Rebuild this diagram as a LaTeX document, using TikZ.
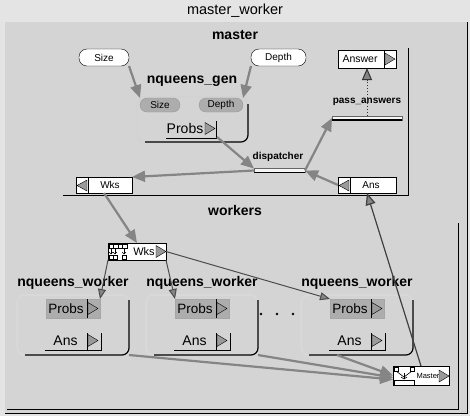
\documentclass[tikz,border=0pt]{standalone}
\usepackage{fontspec}
\setmainfont{Liberation Sans}
\usetikzlibrary{arrows.meta,calc}
\definecolor{bgout}{HTML}{E4E4E4}
\definecolor{bgin}{HTML}{D4D4D4}
\definecolor{hatch}{HTML}{858585}
\definecolor{portfill}{HTML}{ADADAD}
\definecolor{trigray}{HTML}{9A9A9A}
\begin{document}
\begin{tikzpicture}[x=1pt,y=-1pt,
  every node/.style={inner sep=0pt,outer sep=0pt},
  lbl/.style={font=\fontsize{14}{16}\selectfont\bfseries},
  smlbl/.style={font=\fontsize{10}{12}\selectfont\bfseries},
  oval/.style={draw,fill=white,rounded corners=8pt,minimum height=17pt},
  wbox/.style={draw,fill=white,minimum height=16pt},
  pill/.style={draw=gray!80,fill=portfill,rounded corners=7pt,minimum height=14pt,font=\fontsize{10}{11}\selectfont},
  hat/.style={draw=hatch,line width=2.2pt,-{Triangle[length=13pt,width=11pt,fill=hatch]}},
  hatthin/.style={draw=black!70,line width=1pt,-{Triangle[length=10pt,width=8pt,fill=hatch]}},
  rtri/.pic={\draw[fill=trigray] (0,-6) -- (10,0) -- (0,6) -- cycle;},
  ltri/.pic={\draw[fill=trigray] (0,-5.5) -- (-10,0) -- (0,5.5) -- cycle;}
]
\useasboundingbox (0,0) rectangle (470,416);
\fill[bgout] (0,0) rectangle (470,416);
\fill[bgin] (5,22) rectangle (467,413);
\draw[line width=0.8pt] (467,22) -- (467,413) -- (5,413);
\node[font=\fontsize{14.5}{16}\selectfont] (title) at (235,11) {master\_worker};

% ---------------- master region
\node[lbl] (mastert) at (235,35) {master};
\draw[line width=0.8pt] (408,48) -- (408,195) -- (63,195);

\node[oval,minimum width=50pt,font=\fontsize{10}{11}\selectfont] (size) at (104,57.5) {Size};
\node[oval,minimum width=55pt,font=\fontsize{10}{11}\selectfont] (depth) at (278.5,57.5) {Depth};
\node[wbox,minimum width=58pt,minimum height=18pt] (answer) at (367,59) {};
\node[font=\fontsize{10.5}{12}\selectfont] (answert) at (360,59) {Answer};
\draw (384,50) -- (384,68);
\pic at (385,59) {rtri};

% nqueens_gen
\node[lbl] (gent) at (192,81) {nqueens\_gen};
\draw[draw=gray!35,line width=1.5pt,rounded corners=8pt] (137,97) rectangle (248,142);
\node[minimum width=111pt,minimum height=45pt] (gen) at (192.5,119.5) {};
\draw[line width=1.2pt,rounded corners=7pt] (248,104) -- (248,142) -- (145,142);
\node[pill,minimum width=40pt] (gsize) at (160,105) {Size};
\node[pill,minimum width=44pt] (gdepth) at (221,105) {Depth};
\node[font=\fontsize{14}{16}\selectfont] (gprobs) at (185,128) {Probs};
\pic at (205,128.5) {rtri};
\draw (216,121) -- (216,138);
\draw (166,138.5) -- (217,138.5);
\coordinate (gprobsout) at (217,137);

% dispatcher / pass_answers
\node[smlbl] (disp) at (278,157) {dispatcher};
\node[draw=black!60,fill=white!92!gray,minimum width=51pt,minimum height=4pt] (dbar) at (279.5,170.5) {};
\draw[line width=1.2pt] (dbar.south west) -- (dbar.south east);
\node[smlbl] (pass) at (367,102) {pass\_answers};
\node[draw=black!60,fill=white!92!gray,minimum width=70pt,minimum height=4pt] (pbar) at (367,118) {};
\draw[line width=1.2pt] (pbar.south west) -- (pbar.south east);

% Wks / Ans of master
\node[wbox,minimum width=56pt] (wksm) at (104,185) {};
\node[font=\fontsize{10}{12}\selectfont] (wksmt) at (110,185) {Wks};
\draw (88,177) -- (88,193);
\pic at (87,185.5) {ltri};
\node[wbox,minimum width=58pt] (ansm) at (367,185) {};
\node[font=\fontsize{10}{12}\selectfont] (ansmt) at (371,185) {Ans};
\draw (350,177) -- (350,193);
\pic at (349,185.5) {ltri};

% master arrows
\draw[hat] (size.south east) -- (gsize.north west);
\draw[hat] (depth.south west) -- (gdepth.north east);
\draw[hat] (gprobsout) -- (dbar.north west);
\draw[hat] (dbar.west) -- (wksm.north east);
\draw[hat] (ansm.west) -- (dbar.east);
\draw[hat] (dbar.east) -- (pbar.west);
\draw[draw=black!80,line width=1pt,dotted,-{Triangle[length=12pt,width=10pt,fill=hatch]}] (pbar.north) -- (answer.south);

% ---------------- workers region
\node[lbl] (workerst) at (235,210) {workers};
\draw[line width=0.8pt] (458,223) -- (458,409) -- (7,409);

% splitter
\node[wbox,minimum width=58pt,minimum height=17pt] (split) at (137,251.5) {};
\node[font=\fontsize{11}{12}\selectfont] (splitt) at (144,251.5) {Wks};
\pic at (156,251.5) {rtri};
\draw[line width=0.6pt] (109,244) rectangle (127,248);
\foreach \u in {113.5,118,122.5} \draw[line width=0.6pt] (\u,244) -- (\u,248);
\foreach \u in {111,115,124} {
  \draw[line width=0.6pt] (\u,248) -- (\u,254);
  \draw[line width=0.6pt] (\u-2,252) -- (\u,254) -- (\u+2,252);
  \draw[line width=0.6pt] (\u-2,255) rectangle (\u+2,259);
}

% master merger
\node[wbox,minimum width=56pt,minimum height=19pt] (merger) at (421,375.5) {};
\node[font=\fontsize{7.5}{8}\selectfont] (mergert) at (428,376) {Master};
\pic at (439,376) {rtri};
\draw[line width=0.6pt] (394,367) rectangle (398,371);
\draw[line width=0.6pt] (410,367) rectangle (414,371);
\draw[line width=0.6pt] (396,371) -- (404,377) -- (412,371);
\draw[line width=0.6pt] (404,373) -- (404,379);
\draw[line width=0.6pt] (401,377) -- (404,379) -- (407,377);
\draw[line width=0.6pt] (394,380) rectangle (414,385);

% workers
\foreach \i/\x in {1/17,2/146,3/301} {
  \node[lbl] (t\i) at (\x+56,283) {nqueens\_worker};
  \draw[draw=gray!30,line width=1.5pt,rounded corners=8pt] (\x,295) rectangle (\x+112,355);
  \node[minimum width=112pt,minimum height=60pt] (w\i) at (\x+56,325) {};
  \draw[line width=1.2pt,rounded corners=7pt] (\x+112,300) -- (\x+112,355) -- (\x+8,355);
  \node[draw=gray!70,fill=portfill,minimum width=54pt,minimum height=19pt] (pp\i) at (\x+56,308.5) {};
  \node[font=\fontsize{13.5}{15}\selectfont] (pt\i) at (\x+49,309) {Probs};
  \draw (\x+70,299) -- (\x+70,318);
  \pic at (\x+71,308.5) {rtri};
  \node[minimum width=57pt,minimum height=18pt] (ap\i) at (\x+56.5,341) {};
  \node[font=\fontsize{14}{16}\selectfont] (at\i) at (\x+48.5,341) {Ans};
  \draw (\x+70,333) -- (\x+70,350);
  \draw (\x+84,333) -- (\x+84,350);
  \pic at (\x+71,340.5) {rtri};
  \draw (\x+28,350) -- (\x+85,350);
}
\foreach \u in {261,277,293} \fill (\u,314) circle (1.4pt);

% worker arrows
\draw[hatthin] (split.south west) -- (pp1.north east);
\draw[hatthin] (split.south east) -- (pp2.north west);
\draw[hatthin] (split.east) -- (pp3.north west);
\draw[hat] (wksm.south) -- (split.north);
\draw[hat] (w1.south east) -- ([yshift=-4pt]merger.west);
\draw[hat] (w2.south east) -- ([yshift=-2pt]merger.west);
\draw[hat] ($(w3.south)+(-20,0)$) -- (merger.west);
\draw[draw=black!75,line width=1.2pt,-{Triangle[length=12pt,width=10pt,fill=hatch]}] ($(merger.north west)+(28,0)$) -- (ansm.south);
\end{tikzpicture}
\end{document}
